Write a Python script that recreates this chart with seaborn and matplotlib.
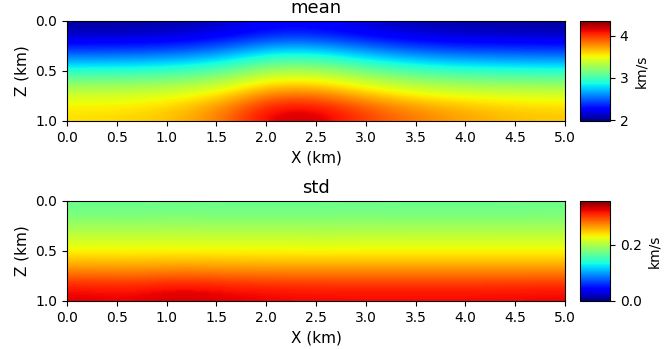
import numpy as np
import matplotlib
matplotlib.use("Agg")
import matplotlib.pyplot as plt
import seaborn as sns

sns.set_style("ticks", {"axes.edgecolor": "black", "text.color": "black",
                        "xtick.color": "black", "ytick.color": "black",
                        "axes.labelcolor": "black"})
plt.rcParams['font.family'] = ['DejaVu Sans']

# grid coordinates (km)
x_km = [0.0, 0.5, 1.0, 1.5, 2.0, 2.5, 3.0, 3.5, 4.0, 4.5, 5.0]
z_km = [0.0, 0.25, 0.5, 0.75, 1.0]

# mean velocity (km/s), rows = depth
mean_z000 = [2.05, 2.06, 2.08, 2.14, 2.25, 2.25, 2.17, 2.10, 2.07, 2.06, 2.05]
mean_z025 = [2.42, 2.43, 2.47, 2.58, 2.79, 2.79, 2.64, 2.52, 2.45, 2.43, 2.42]
mean_z050 = [2.95, 2.96, 3.00, 3.10, 3.31, 3.31, 3.17, 3.05, 2.98, 2.95, 2.93]
mean_z075 = [3.37, 3.38, 3.42, 3.52, 3.76, 3.76, 3.60, 3.47, 3.41, 3.39, 3.38]
mean_z100 = [3.58, 3.60, 3.67, 3.85, 4.18, 4.20, 4.00, 3.85, 3.75, 3.68, 3.64]

# std (km/s)
std_z000 = [0.170, 0.170, 0.171, 0.170, 0.170, 0.170, 0.171, 0.170, 0.170, 0.170, 0.171]
std_z025 = [0.200, 0.200, 0.201, 0.200, 0.201, 0.200, 0.200, 0.200, 0.201, 0.200, 0.200]
std_z050 = [0.230, 0.229, 0.230, 0.229, 0.229, 0.228, 0.229, 0.229, 0.229, 0.229, 0.229]
std_z075 = [0.272, 0.270, 0.274, 0.271, 0.270, 0.270, 0.270, 0.270, 0.270, 0.270, 0.270]
std_z100 = [0.325, 0.322, 0.332, 0.325, 0.322, 0.320, 0.320, 0.320, 0.320, 0.320, 0.322]

mean_ticks = [2, 3, 4]
std_ticks = [0.0, 0.2]
x_ticks = [0.0, 0.5, 1.0, 1.5, 2.0, 2.5, 3.0, 3.5, 4.0, 4.5, 5.0]
z_ticks = [0.0, 0.5, 1.0]

mean_grid = np.array([mean_z000, mean_z025, mean_z050, mean_z075, mean_z100])
std_grid = np.array([std_z000, std_z025, std_z050, std_z075, std_z100])

W, H = 670, 349
fig = plt.figure(figsize=(W / 100, H / 100), dpi=100)
cmap = plt.get_cmap("jet")

def fr(x0, y0, x1, y1):
    return [x0 / W, (H - y1) / H, (x1 - x0) / W, (y1 - y0) / H]

panels = [
    ("mean", mean_grid, 1.98, 4.35, mean_ticks, 21, 121),
    ("std", std_grid, 0.0, 0.355, std_ticks, 201, 301),
]
for title, grid, vmin, vmax, cticks, y0, y1 in panels:
    ax = fig.add_axes(fr(67, y0, 565, y1))
    im = ax.imshow(grid, cmap=cmap, vmin=vmin, vmax=vmax, aspect="auto",
                   interpolation="bicubic",
                   extent=[x_km[0], x_km[-1], z_km[-1], z_km[0]])
    ax.set_xticks(x_ticks)
    ax.set_yticks(z_ticks)
    ax.set_xlim(0, 5)
    ax.set_ylim(1, 0)
    ax.set_xlabel("X (km)", fontsize=11)
    ax.set_ylabel("Z (km)", fontsize=11)
    ax.set_title(title, fontsize=13)
    ax.tick_params(labelsize=10, direction="out", length=3.5)
    cax = fig.add_axes(fr(580, y0, 610, y1))
    cb = fig.colorbar(im, cax=cax)
    cb.set_ticks(cticks)
    cb.ax.tick_params(labelsize=10, length=3.5)
    cb.set_label("km/s", fontsize=10)
    for sp in cax.spines.values():
        sp.set_edgecolor("black")

fig.savefig("out.png", dpi=100)
